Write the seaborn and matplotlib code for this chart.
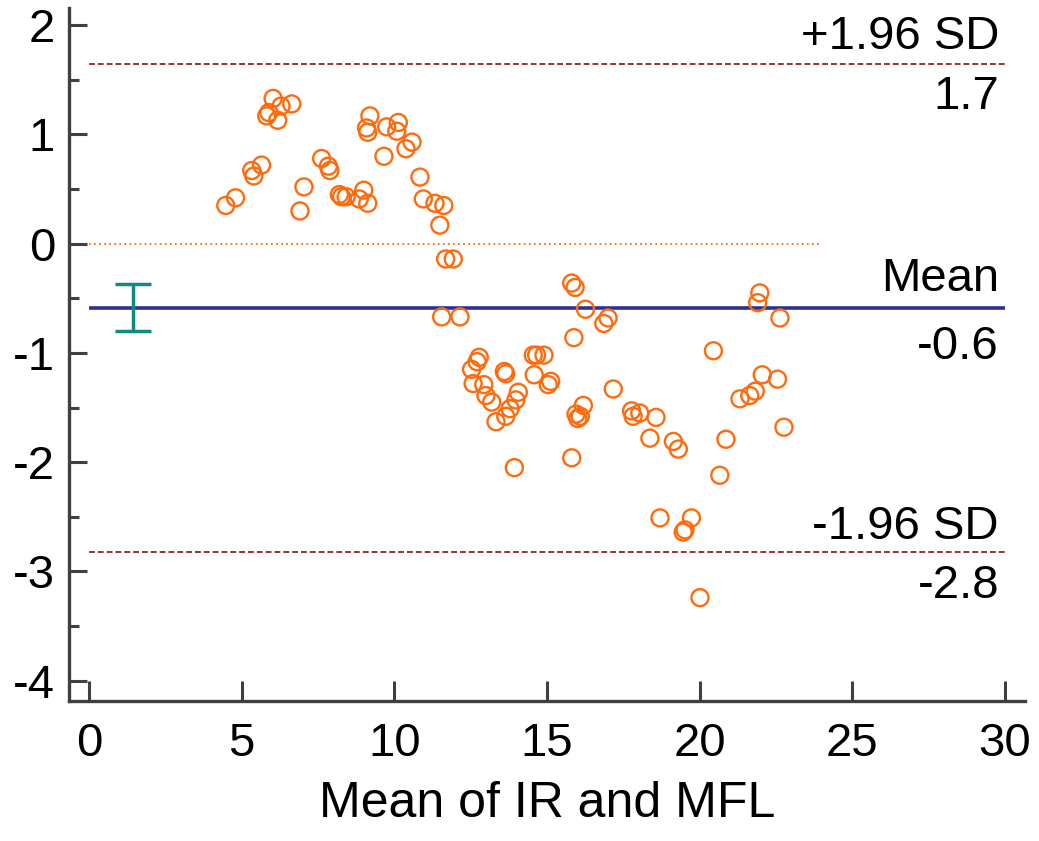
import numpy as np
import pandas as pd
import matplotlib
matplotlib.use('Agg')
import matplotlib.pyplot as plt
import seaborn as sns
from matplotlib.ticker import MultipleLocator

# mean of the two methods (x) and their difference (y)
mean_ir_mfl = [
    6.03, 6.29, 6.64, 5.89, 5.82, 6.18,
    9.20, 9.09, 9.13, 9.75, 10.13, 10.08, 10.38, 10.58, 9.66, 10.84,
    5.33, 5.65, 5.40, 7.62, 7.84, 7.89, 7.04, 6.91, 4.48, 4.80,
    8.20, 8.27, 8.42, 9.00, 8.85, 9.13,
    10.95, 11.33, 11.62, 11.49, 11.68, 11.93, 11.55, 12.15,
    15.81, 15.92, 16.26, 16.86, 17.00, 15.88,
    12.78, 12.71, 12.53, 12.58, 12.93, 13.00, 13.19, 13.33, 13.65, 13.79, 13.98, 14.06,
    13.60, 13.65, 14.55, 14.66, 14.90, 14.58, 15.04, 15.12,
    17.17, 16.19, 15.95, 16.01, 16.09, 15.81, 13.93,
    20.45, 17.77, 17.82, 18.04, 18.57, 18.37, 19.14, 19.30,
    21.97, 21.90, 22.63, 22.05, 22.55, 21.82, 21.64, 21.32,
    20.86, 22.76, 20.66, 18.70, 19.73, 19.52, 19.46, 20.01,
]
diff_ir_mfl = [
    1.33, 1.26, 1.28, 1.20, 1.17, 1.13,
    1.17, 1.06, 1.02, 1.07, 1.11, 1.03, 0.87, 0.93, 0.80, 0.61,
    0.67, 0.72, 0.62, 0.78, 0.71, 0.67, 0.52, 0.30, 0.35, 0.42,
    0.45, 0.43, 0.43, 0.49, 0.41, 0.37,
    0.41, 0.37, 0.35, 0.17, -0.14, -0.14, -0.67, -0.67,
    -0.36, -0.40, -0.60, -0.73, -0.68, -0.86,
    -1.04, -1.08, -1.15, -1.28, -1.29, -1.39, -1.45, -1.63, -1.58, -1.51, -1.43, -1.36,
    -1.17, -1.19, -1.02, -1.02, -1.02, -1.20, -1.29, -1.26,
    -1.33, -1.48, -1.56, -1.60, -1.58, -1.96, -2.05,
    -0.98, -1.53, -1.58, -1.55, -1.59, -1.78, -1.81, -1.88,
    -0.45, -0.54, -0.68, -1.20, -1.24, -1.35, -1.39, -1.42,
    -1.79, -1.68, -2.12, -2.51, -2.51, -2.62, -2.64, -3.24,
]

mean_diff = -0.588
upper_loa = 1.646
lower_loa = -2.822
ci_mean = 0.215
line_labels = ['+1.96 SD', '1.7', 'Mean', '-0.6', '-1.96 SD', '-2.8']

df = pd.DataFrame({'mean': mean_ir_mfl, 'diff': diff_ir_mfl})

sns.set_theme(style='white')
plt.rcParams['font.family'] = ['Liberation Sans', 'DejaVu Sans']
plt.rcParams['axes.unicode_minus'] = False
plt.rcParams['text.color'] = 'black'
plt.rcParams['axes.labelcolor'] = 'black'

orange = '#ff6a0d'
navy = '#2e3192'
darkred = '#8b1010'
teal = '#13897f'
axcol = '#404040'

fig = plt.figure(figsize=(10.39, 8.41), dpi=100)
ax = fig.add_axes([0.0664, 0.1665, 0.92, 0.824])

# reference lines
ax.plot([0, 30], [upper_loa, upper_loa], color=darkred, lw=1.2, dashes=(3.5, 1.8), zorder=2)
ax.plot([0, 30], [lower_loa, lower_loa], color=darkred, lw=1.2, dashes=(3.5, 1.8), zorder=2)
ax.plot([0, 24], [0, 0], color=orange, lw=1.3, dashes=(1, 1.8), zorder=2)
ax.plot([0, 30], [mean_diff, mean_diff], color=navy, lw=2.6, solid_capstyle='butt', zorder=2)

# 95% CI of the mean
ax.errorbar([1.45], [mean_diff], yerr=[ci_mean], fmt='none', ecolor=teal,
            elinewidth=2.5, capsize=13.3, capthick=2.5, zorder=3)

sns.scatterplot(data=df, x='mean', y='diff', ax=ax, marker='o', s=150,
                facecolor='none', edgecolor=orange, linewidth=1.7, zorder=4, legend=False)

# text next to the lines
fs = 34
ax.annotate(line_labels[0], (29.8, upper_loa), xytext=(0, 11), textcoords='offset points',
            ha='right', va='baseline', fontsize=fs, color='black')
ax.annotate(line_labels[1], (29.8, upper_loa), xytext=(0, -8), textcoords='offset points',
            ha='right', va='top', fontsize=fs, color='black')
ax.annotate(line_labels[2], (29.8, mean_diff), xytext=(0, 12), textcoords='offset points',
            ha='right', va='baseline', fontsize=fs, color='black')
ax.annotate(line_labels[3], (29.8, mean_diff), xytext=(0, -12), textcoords='offset points',
            ha='right', va='top', fontsize=fs, color='black')
ax.annotate(line_labels[4], (29.8, lower_loa), xytext=(0, 9), textcoords='offset points',
            ha='right', va='baseline', fontsize=fs, color='black')
ax.annotate(line_labels[5], (29.8, lower_loa), xytext=(0, -9), textcoords='offset points',
            ha='right', va='top', fontsize=fs, color='black')

ax.set_xlim(-0.655, 30.65)
ax.set_ylim(-4.186, 2.158)
ax.xaxis.set_major_locator(MultipleLocator(5))
ax.yaxis.set_major_locator(MultipleLocator(1))
ax.yaxis.set_minor_locator(MultipleLocator(0.5))

for side in ['top', 'right']:
    ax.spines[side].set_visible(False)
for side in ['left', 'bottom']:
    ax.spines[side].set_color(axcol)
    ax.spines[side].set_linewidth(2.4)

ax.tick_params(axis='both', which='both', direction='in', color=axcol, width=2.2,
               labelsize=fs, labelcolor='black', bottom=True, left=True)
ax.tick_params(axis='y', which='major', length=12.7, pad=10)
ax.tick_params(axis='y', which='minor', length=7)
ax.tick_params(axis='x', which='major', length=14.4, pad=15)
ax.tick_params(axis='x', which='minor', length=0)

ax.set_xlabel('Mean of IR and MFL', fontsize=36, labelpad=11, color='black')
ax.set_ylabel('')

fig.savefig('out.png', dpi=100)
